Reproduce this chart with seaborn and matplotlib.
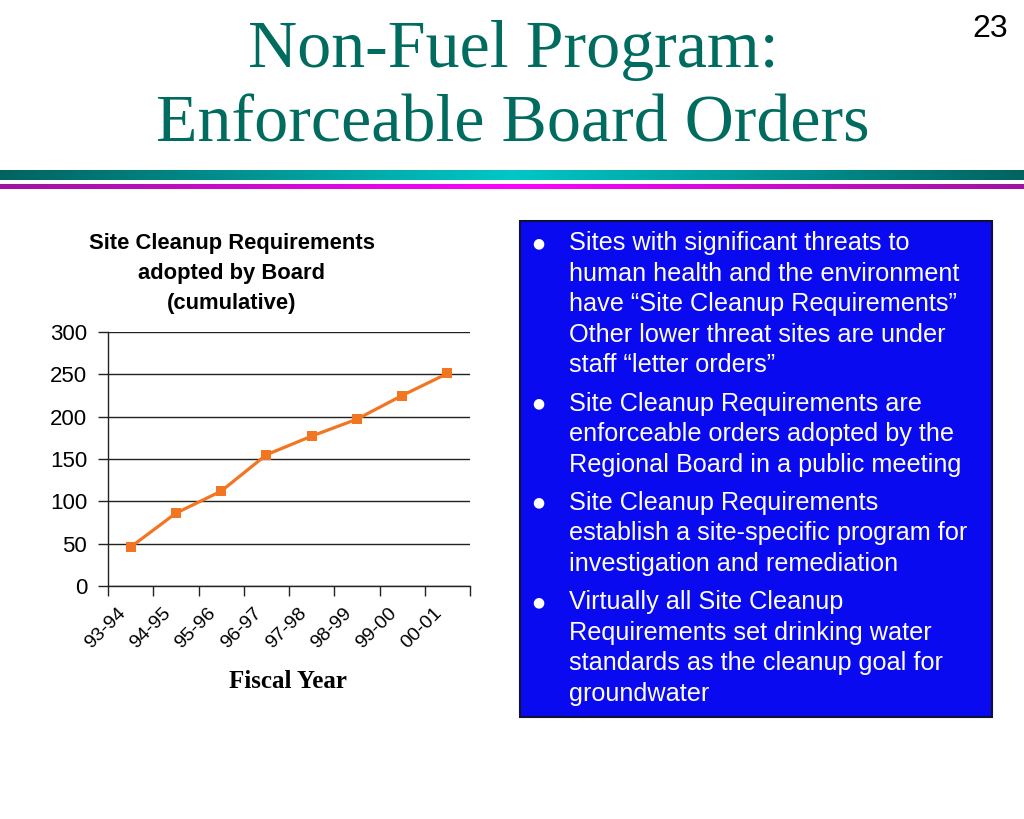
import numpy as np
import pandas as pd
import matplotlib
matplotlib.use("Agg")
import matplotlib.pyplot as plt
from matplotlib.patches import Rectangle
from matplotlib.ticker import FixedLocator, NullFormatter
import seaborn as sns

# ---- data ----
years = ["93-94", "94-95", "95-96", "96-97", "97-98", "98-99", "99-00", "00-01"]
cumulative = [46, 86, 112, 155, 177, 197, 225, 251]
y_ticks = [0, 50, 100, 150, 200, 250, 300]

title_lines = ["Non-Fuel Program:", "Enforceable Board Orders"]
chart_title_lines = ["Site Cleanup Requirements", "adopted by Board", "(cumulative)"]
x_label = "Fiscal Year"
page_number = "23"
bullets = [
    ["Sites with significant threats to",
     "human health and the environment",
     "have \u201cSite Cleanup Requirements\u201d",
     "Other lower threat sites are under",
     "staff \u201cletter orders\u201d"],
    ["Site Cleanup Requirements are",
     "enforceable orders adopted by the",
     "Regional Board in a public meeting"],
    ["Site Cleanup Requirements",
     "establish a site-specific program for",
     "investigation and remediation"],
    ["Virtually all Site Cleanup",
     "Requirements set drinking water",
     "standards as the cleanup goal for",
     "groundwater"],
]

sns.set_theme(style="white")
plt.rcParams["font.family"] = ["Liberation Sans", "DejaVu Sans"]
plt.rcParams["text.color"] = "black"
plt.rcParams["axes.labelcolor"] = "black"
plt.rcParams["xtick.color"] = "black"
plt.rcParams["ytick.color"] = "black"

W, H = 1024, 819
fig = plt.figure(figsize=(W / 100, H / 100), dpi=100)
fig.patch.set_facecolor("white")

def fx(px):
    return px / W

def fy(py):
    return 1 - py / H

# ---- header title ----
teal = "#006B5F"
fig.text(fx(513), fy(67), title_lines[0], family="Liberation Serif", fontsize=49,
         color=teal, ha="center", va="baseline")
fig.text(fx(513), fy(142), title_lines[1], family="Liberation Serif", fontsize=49,
         color=teal, ha="center", va="baseline")
fig.text(fx(990), fy(29), page_number, fontsize=23, color="black", ha="center", va="center")

# ---- gradient rule bars ----
t = np.linspace(0, 1, 256)
g = 1 - np.abs(t - 0.5) * 2  # 0 at edges, 1 in centre
c_edge = np.array([0.0, 0.39, 0.38])
c_mid = np.array([0.0, 0.78, 0.78])
teal_grad = (c_edge[None, :] + (c_mid - c_edge)[None, :] * g[:, None])[None, :, :]
m_edge = np.array([0.62, 0.08, 0.62])
m_mid = np.array([1.0, 0.0, 1.0])
mag_grad = (m_edge[None, :] + (m_mid - m_edge)[None, :] * g[:, None])[None, :, :]

ax_bar1 = fig.add_axes([0, fy(180), 1, (180 - 170) / H])
ax_bar1.imshow(teal_grad, aspect="auto", extent=[0, 1, 0, 1])
ax_bar1.axis("off")
ax_bar2 = fig.add_axes([0, fy(189), 1, (189 - 184) / H])
ax_bar2.imshow(mag_grad, aspect="auto", extent=[0, 1, 0, 1])
ax_bar2.axis("off")

# ---- chart ----
ax = fig.add_axes([fx(108), fy(586), fx(470) - fx(108), (586 - 332) / H])
df = pd.DataFrame({"year": years, "value": cumulative})
df["pos"] = np.arange(len(years))
sns.lineplot(data=df, x="pos", y="value", ax=ax, color="#F27521", linewidth=2.3,
             marker="s", markersize=6.5, markeredgewidth=0)
ax.set_xlim(-0.5, len(years) - 0.5)
ax.set_ylim(0, 300)
ax.set_yticks(y_ticks)
ax.set_yticklabels([str(v) for v in y_ticks], fontsize=16)
ax.yaxis.grid(True, color="#222222", linewidth=1)
ax.set_axisbelow(True)
# rotated category labels: their right end sits a little left of each category centre
ax.set_xticks(df["pos"] - 0.3)
ax.set_xticklabels(years, rotation=45, ha="right", rotation_mode="anchor", fontsize=14)
ax.xaxis.set_minor_locator(FixedLocator(np.arange(-0.5, len(years), 1.0)))
ax.xaxis.set_minor_formatter(NullFormatter())
ax.tick_params(axis="x", which="major", length=0, pad=13.5)
ax.tick_params(axis="x", which="minor", length=7, width=1, color="#222222", direction="out", bottom=True)
ax.tick_params(axis="y", which="major", length=7, width=1, color="#222222", direction="out", left=True, pad=8)
for s in ["top", "right"]:
    ax.spines[s].set_visible(False)
for s in ["left", "bottom"]:
    ax.spines[s].set_color("#222222")
    ax.spines[s].set_linewidth(1)
ax.set_xlabel("")
ax.set_ylabel("")
ax.set_facecolor("white")

for i, line in enumerate(chart_title_lines):
    fig.text(fx(232), fy(244 + 29.5 * i), line, fontsize=15.8, fontweight="bold",
             ha="center", va="center")
fig.text(fx(288), fy(682), x_label, family="Liberation Serif", fontsize=18,
         fontweight="bold", ha="center", va="center")

# ---- text box ----
box = Rectangle((fx(520), fy(717)), fx(992) - fx(520), (717 - 221) / H,
                transform=fig.transFigure, facecolor="#0A0AF0", edgecolor="#111133",
                linewidth=1.5)
fig.patches.append(box)

y = 243
step = 30.6
gap = 7.5
for para in bullets:
    fig.text(fx(538), fy(y), "\u25cf", fontsize=10, color="white", ha="center", va="center",
             family="DejaVu Sans")
    for line in para:
        fig.text(fx(569), fy(y), line, fontsize=18.2, color="white", ha="left", va="center")
        y += step
    y += gap

fig.savefig("out.png", dpi=100, facecolor="white")
